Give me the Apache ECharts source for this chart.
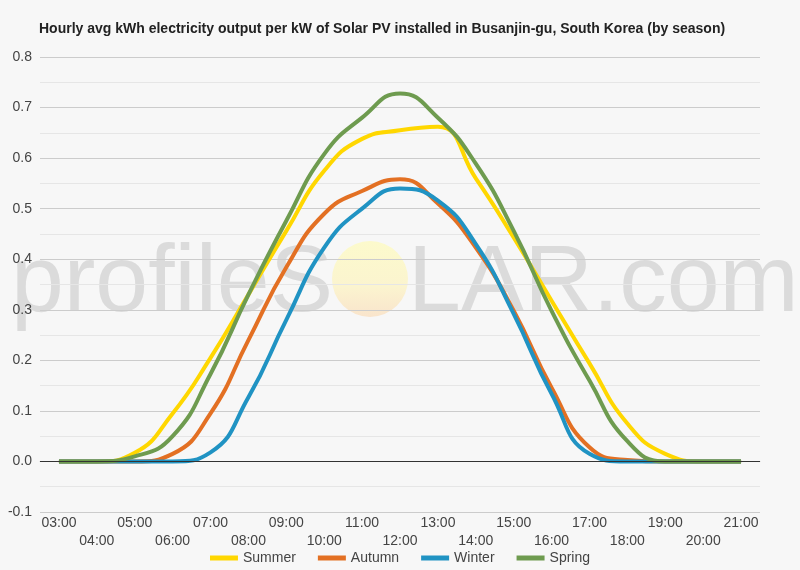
<!DOCTYPE html>
<html>
<head>
<meta charset="utf-8">
<title>Busanjin-gu solar PV output by season</title>
<script src="https://cdn.jsdelivr.net/npm/echarts@6/dist/echarts.min.js"></script>
<style>
  html, body { margin: 0; padding: 0; background: #f7f7f7; }
  #chart { width: 800px; height: 570px; }
</style>
</head>
<body>
<div id="chart"></div>
<script>
var hours = ['03:00','04:00','05:00','06:00','07:00','08:00','09:00','10:00','11:00','12:00',
             '13:00','14:00','15:00','16:00','17:00','18:00','19:00','20:00','21:00'];

var summer = [0, 0, 0.017, 0.095, 0.205, 0.33, 0.456, 0.575, 0.638, 0.655,
              0.662, 0.56, 0.443, 0.318, 0.194, 0.075, 0.015, 0, 0];
var autumn = [0, 0, 0, 0.015, 0.095, 0.24, 0.384, 0.49, 0.535, 0.558,
              0.51, 0.423, 0.298, 0.146, 0.028, 0.003, 0, 0, 0];
var winter = [0, 0, 0, 0, 0.018, 0.127, 0.28, 0.423, 0.5, 0.54,
              0.516, 0.43, 0.292, 0.134, 0.015, 0, 0, 0, 0];
var spring = [0, 0, 0.01, 0.05, 0.173, 0.33, 0.476, 0.608, 0.68, 0.728,
              0.68, 0.589, 0.456, 0.298, 0.16, 0.04, 0, 0, 0];

var seasonNames = ['Summer', 'Autumn', 'Winter', 'Spring'];
var seasonColors = ['#FFD700', '#E37023', '#2093C3', '#6E9B4F'];
var seasonData = [summer, autumn, winter, spring];

var myChart = echarts.init(document.getElementById('chart'));

var series = [];
for (var i = 0; i < seasonNames.length; i++) {
    series.push({
        name: seasonNames[i],
        type: 'line',
        data: seasonData[i],
        smooth: 0.5,
        showSymbol: false,
        lineStyle: { width: 4, color: seasonColors[i] },
        itemStyle: { color: seasonColors[i] }
    });
}
// black zero line
series[0].markLine = {
    silent: true,
    symbol: 'none',
    label: { show: false },
    lineStyle: { color: '#333', width: 1, type: 'solid' },
    data: [{ yAxis: 0 }]
};

var option = {
    backgroundColor: '#f7f7f7',
    textStyle: { fontFamily: 'Liberation Sans, Arial, sans-serif' },
    title: {
        text: 'Hourly avg kWh electricity output per kW of Solar PV installed in Busanjin-gu, South Korea (by season)',
        left: 34,
        top: 17,
        textStyle: { fontSize: 14, fontWeight: 'bold', color: '#222' }
    },
    legend: {
        bottom: 0,
        left: 'center',
        icon: 'rect',
        itemWidth: 28,
        itemHeight: 5,
        itemGap: 22,
        textStyle: { fontSize: 14, color: '#444' },
        data: seasonNames
    },
    graphic: [
        {
            type: 'circle',
            z: -10,
            shape: { cx: 370, cy: 279, r: 38 },
            style: {
                fill: new echarts.graphic.LinearGradient(0, 0, 0, 1, [
                    { offset: 0, color: '#fcfacc' },
                    { offset: 0.6, color: '#fbf4cf' },
                    { offset: 1, color: '#f9e4cc' }
                ])
            }
        },
        {
            type: 'text',
            z: -10,
            right: 800 - 333,
            top: 237,
            style: {
                text: 'profileS',
                font: '95px "Liberation Sans", Arial, sans-serif',
                fill: 'rgba(200,200,200,0.6)'
            }
        },
        {
            type: 'text',
            z: -10,
            left: 408,
            top: 237,
            style: {
                text: 'LAR.com',
                font: '95px "Liberation Sans", Arial, sans-serif',
                fill: 'rgba(200,200,200,0.6)'
            }
        }
    ],
    grid: { left: 40, right: 40, top: 57, bottom: 58 },
    xAxis: {
        type: 'category',
        boundaryGap: true,
        data: hours,
        axisLine: { lineStyle: { color: '#ccc' } },
        axisTick: { show: false },
        axisLabel: {
            interval: 0,
            fontSize: 14,
            color: '#444',
            margin: 2,
            lineHeight: 18,
            formatter: function (value, index) {
                return index % 2 ? '\n' + value : value;
            }
        }
    },
    yAxis: {
        type: 'value',
        min: -0.1,
        max: 0.8,
        interval: 0.1,
        axisLine: { show: false },
        axisTick: { show: false },
        axisLabel: {
            fontSize: 14,
            color: '#444',
            margin: 8,
            formatter: function (v) { return v.toFixed(1); }
        },
        splitLine: { lineStyle: { color: '#cccccc' } },
        minorTick: { show: false, splitNumber: 2 },
        minorSplitLine: { show: true, lineStyle: { color: '#e6e6e6' } }
    },
    series: series
};
myChart.setOption(option);
</script>
</body>
</html>
